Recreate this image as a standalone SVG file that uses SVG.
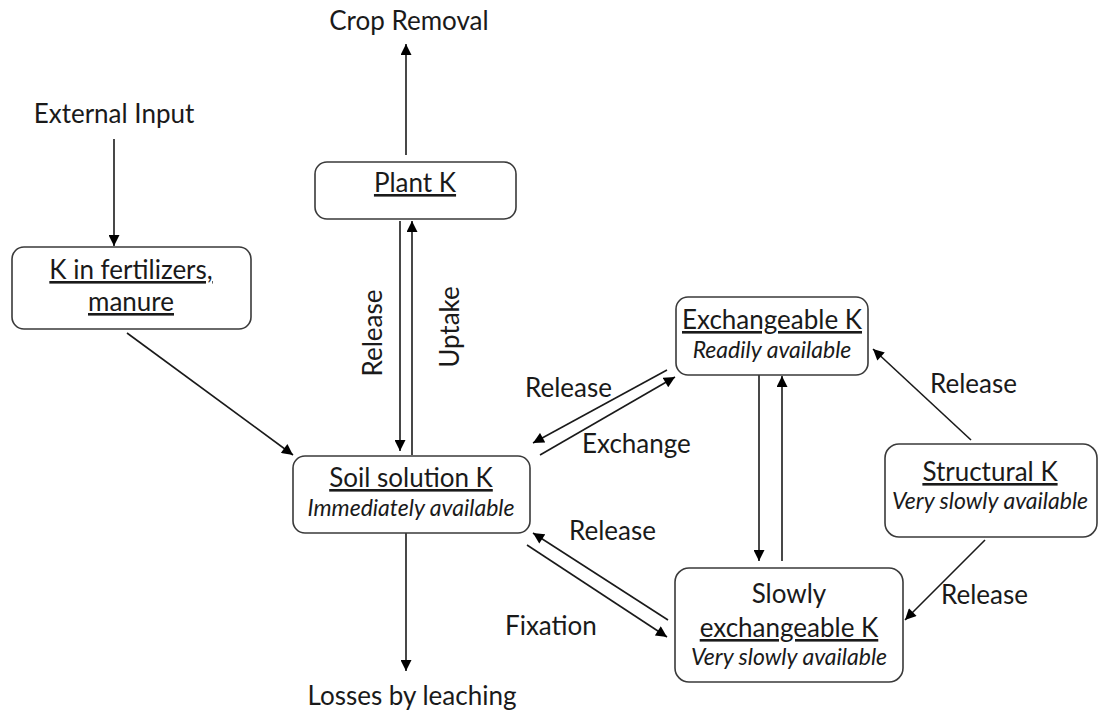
<svg xmlns="http://www.w3.org/2000/svg" width="1099" height="715" viewBox="0 0 1099 715">
<style>
text{font-family:Lato,"Liberation Sans",sans-serif;fill:#1a1a1a;}
.t{font-size:26px;text-anchor:middle;}
.u{text-decoration:underline;}
.s{font-size:23px;font-style:italic;text-anchor:middle;}
.l{font-size:26px;}
.box{fill:#fff;stroke:#3a3a3a;stroke-width:1.6;}
.c{stroke:#1a1a1a;stroke-width:1.6;fill:none;marker-end:url(#ah);}
</style>
<defs>
<marker id="ah" viewBox="0 0 10 10" refX="10" refY="5" markerWidth="12" markerHeight="11" markerUnits="userSpaceOnUse" orient="auto"><path d="M0,0 L10,5 L0,10 z" fill="#000"/></marker>
</defs>
<rect width="1099" height="715" fill="#fff"/>
<g id="connectors">
<line class="c" x1="406" y1="155" x2="406" y2="44"/>
<line class="c" x1="114" y1="139" x2="114" y2="246"/>
<line class="c" x1="400" y1="221" x2="400" y2="451"/>
<line class="c" x1="412" y1="455" x2="412" y2="221"/>
<line class="c" x1="127" y1="333" x2="293" y2="455"/>
<line class="c" x1="667" y1="370" x2="533" y2="443"/>
<line class="c" x1="540" y1="455" x2="675" y2="377"/>
<line class="c" x1="668" y1="620" x2="533" y2="533"/>
<line class="c" x1="527" y1="545" x2="667" y2="637"/>
<line class="c" x1="759" y1="375" x2="759" y2="561"/>
<line class="c" x1="782" y1="561" x2="782" y2="376"/>
<line class="c" x1="971" y1="440" x2="873" y2="349"/>
<line class="c" x1="985" y1="540" x2="905" y2="620"/>
<line class="c" x1="406" y1="533" x2="406" y2="671"/>
</g>
<g id="labels">
<text class="t" x="409" y="30">Crop Removal</text>
<text class="t" x="114" y="123">External Input</text>
<text class="t" x="412" y="705">Losses by leaching</text>
<text class="l" x="0" y="0" text-anchor="middle" transform="translate(382,333) rotate(-90)">Release</text>
<text class="l" x="0" y="0" text-anchor="middle" transform="translate(459,327) rotate(-90)">Uptake</text>
<text class="l" x="525" y="397">Release</text>
<text class="l" x="582" y="453">Exchange</text>
<text class="l" x="569" y="540">Release</text>
<text class="l" x="505" y="635">Fixation</text>
<text class="l" x="930" y="393">Release</text>
<text class="l" x="941" y="604">Release</text>
</g>
<g id="plantK">
<rect class="box" x="315" y="162" width="201" height="57" rx="12"/>
<text class="t u" x="415" y="192">Plant K</text>
</g>
<g id="fertilizers">
<rect class="box" x="12" y="247" width="239" height="82" rx="12"/>
<text class="t u" x="131" y="279">K in fertilizers,</text>
<text class="t u" x="131" y="311">manure</text>
</g>
<g id="soilSolution">
<rect class="box" x="293" y="456" width="237" height="77" rx="12"/>
<text class="t u" x="411" y="487">Soil solution K</text>
<text class="s" x="411" y="516">Immediately available</text>
</g>
<g id="exchangeable">
<rect class="box" x="676" y="297" width="192" height="78" rx="12"/>
<text class="t u" x="772" y="329">Exchangeable K</text>
<text class="s" x="772" y="358">Readily available</text>
</g>
<g id="slowly">
<rect class="box" x="675" y="568" width="228" height="114" rx="14"/>
<text class="t" x="789" y="603">Slowly</text>
<text class="t u" x="789" y="637">exchangeable K</text>
<text class="s" x="789" y="665">Very slowly available</text>
</g>
<g id="structural">
<rect class="box" x="885" y="444" width="212" height="93" rx="14"/>
<text class="t u" x="990" y="481">Structural K</text>
<text class="s" x="990" y="509">Very slowly available</text>
</g>
</svg>
